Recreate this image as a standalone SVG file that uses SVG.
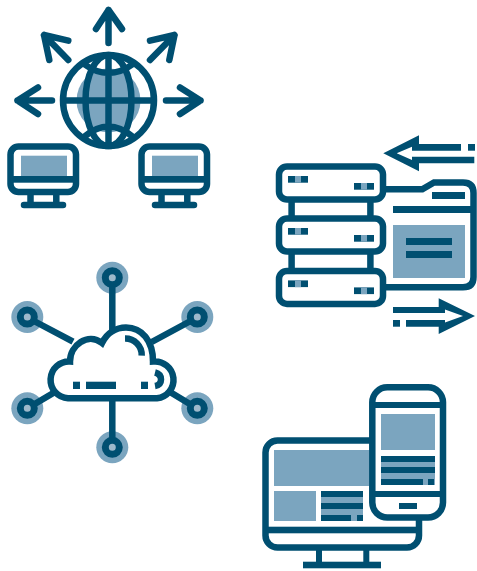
<svg xmlns="http://www.w3.org/2000/svg" width="477" height="571" viewBox="0 0 477 571">
<style>
.s{fill:none;stroke:#004f71;stroke-width:6.5}
.r{stroke-linecap:round;stroke-linejoin:round}
.w{fill:#fff;stroke:#004f71;stroke-width:6.5}
.d{fill:#004f71}
.l{fill:#7ba5bf}
.e{fill:#fff}
</style>
<defs>
<g id="pc">
<rect class="w" x="10.5" y="146.5" width="65.5" height="45.5" rx="8"/>
<rect class="l" x="21" y="155.7" width="46" height="20.3"/>
<rect class="d" x="10.5" y="176" width="65.5" height="6.7"/>
<path class="s" d="M30.5 193V204M56.3 193V204"/>
<path class="s r" d="M24 205H63"/>
</g>
<g id="srv">
<rect class="w" x="279" y="166.5" width="104" height="33" rx="8"/>
<rect class="d" x="288" y="176" width="20" height="6.7"/>
<rect class="l" x="295" y="176" width="6" height="6.7"/>
<rect class="d" x="354" y="183" width="20" height="6.7"/>
<rect class="l" x="361" y="183" width="6" height="6.7"/>
</g>
<g id="hub">
<circle class="l" r="16"/>
<circle r="7" fill="#9db9cb" stroke="#004f71" stroke-width="7"/>
</g>
</defs>
<g id="globe">
<circle class="e" cx="108.5" cy="100.5" r="45.5"/>
<circle class="l" cx="108.5" cy="100.5" r="32"/>
<circle class="s" cx="108.5" cy="100.5" r="45.5"/>
<ellipse class="s" cx="108.5" cy="100.5" rx="23" ry="45.5"/>
<path class="s" d="M108.5 55V146M63 100.5H154M84 64Q108.5 82 133 64M84 137Q108.5 116 133 137"/>
<g class="s r">
<path d="M108.5 43V10M96 29L108.5 10L122 29"/>
<path d="M52 100.5H17.5M38 87.5L17.5 100.5L38 114"/>
<path d="M166 100.5H200.5M180 87.5L200.5 100.5L180 114"/>
<path d="M68.3 60L44 35M68.3 40.7L44 35L49.3 60"/>
<path d="M150 60L174.5 35M150 40.7L174.5 35L169.3 60"/>
</g>
</g>
<use id="pc-left" href="#pc"/>
<use id="pc-right" href="#pc" x="131"/>
<g id="servers">
<path class="s" d="M291.6 200V268M370.4 200V268"/>
<path class="e" d="M383 189.3H422.3L434 182.5H463Q473.5 182.5 473.5 193V277Q473.5 287.3 463 287.3H383Z"/>
<path class="s" d="M383 189.3H422.3L434 182.5H463Q473.5 182.5 473.5 193V277Q473.5 287.3 463 287.3H383"/>
<use href="#srv"/>
<use href="#srv" y="52"/>
<use href="#srv" y="104.4"/>
<rect class="d" x="432" y="192" width="33" height="7"/>
<rect class="d" x="393" y="206" width="81" height="7"/>
<rect class="l" x="393" y="225" width="72" height="53"/>
<rect class="d" x="406" y="238" width="46" height="7"/>
<rect class="d" x="406" y="251" width="46" height="7"/>
<path class="d" d="M383.3 153.3L419 135.3V144H461V150.7H412V146.7L396.7 153.3L412 160V156.7H474.3V163.3H419V171.3Z"/>
<rect class="d" x="468" y="144" width="7" height="6.7"/>
<path class="d" d="M475 316L438.7 298.3V307H393V313H445V309.5L463 316L445 322.5V320H406V326.7H438.7V334Z"/>
<rect class="d" x="393" y="320" width="7" height="6.7"/>
</g>
<g id="cloud-network">
<use href="#hub" x="112.3" y="277.7"/>
<use href="#hub" x="27.3" y="317"/>
<use href="#hub" x="197.3" y="317"/>
<use href="#hub" x="27.3" y="408.3"/>
<use href="#hub" x="197.3" y="408.3"/>
<use href="#hub" x="112.3" y="447.3"/>
<path class="s" d="M112.3 284V332M112.3 398V441M33 320.5L73 341.7M191.5 320.5L151.7 342M33 405L55 392M191.5 405L170 392"/>
<path class="w" d="M68 398.3A18 18 0 0 1 70 361.5C70 345 88 332 102 343C107 333 116 327.5 126 327.5C142 327.5 153 341 153 361.5A18.5 18.5 0 0 1 157 398.3Z"/>
<rect class="d" x="73" y="381.7" width="7" height="7.3"/>
<rect class="d" x="86" y="381.7" width="30" height="7.3"/>
<rect class="d" x="141" y="381.7" width="7" height="7.3"/>
<path class="s" d="M125 338.5A16.5 16.5 0 0 1 141.7 355.7M155 372.5Q161 374 161 379.5T155 386"/>
</g>
<g id="devices">
<rect class="w" x="265.5" y="440.5" width="153.5" height="107" rx="12"/>
<rect class="l" x="274" y="450" width="95" height="36"/>
<rect class="l" x="274" y="491" width="42" height="30"/>
<rect class="l" x="321" y="491" width="42" height="30"/>
<rect class="d" x="321" y="491" width="42" height="6"/>
<rect class="d" x="321" y="503" width="42" height="6"/>
<rect class="d" x="321" y="515" width="30" height="6"/>
<rect class="d" x="357" y="515" width="6" height="6"/>
<rect class="d" x="265.5" y="526.7" width="153.5" height="6.6"/>
<rect class="d" x="316" y="549" width="6" height="14"/>
<rect class="d" x="363.3" y="549" width="6" height="14"/>
<rect class="d" x="303" y="561.7" width="78" height="6.6"/>
<rect class="w" x="372.3" y="387.3" width="70.7" height="130.2" rx="15"/>
<rect class="d" x="372.3" y="402" width="70.7" height="6"/>
<rect class="d" x="372.3" y="491" width="70.7" height="6"/>
<rect class="l" x="381" y="414" width="54" height="36"/>
<rect class="l" x="381" y="456" width="54" height="29"/>
<rect class="d" x="381" y="456" width="54" height="6"/>
<rect class="d" x="381" y="467" width="54" height="6"/>
<rect class="d" x="381" y="479" width="42" height="6"/>
<rect class="d" x="428" y="479" width="6" height="6"/>
<rect class="d" x="399" y="503" width="18" height="6"/>
</g>
</svg>
